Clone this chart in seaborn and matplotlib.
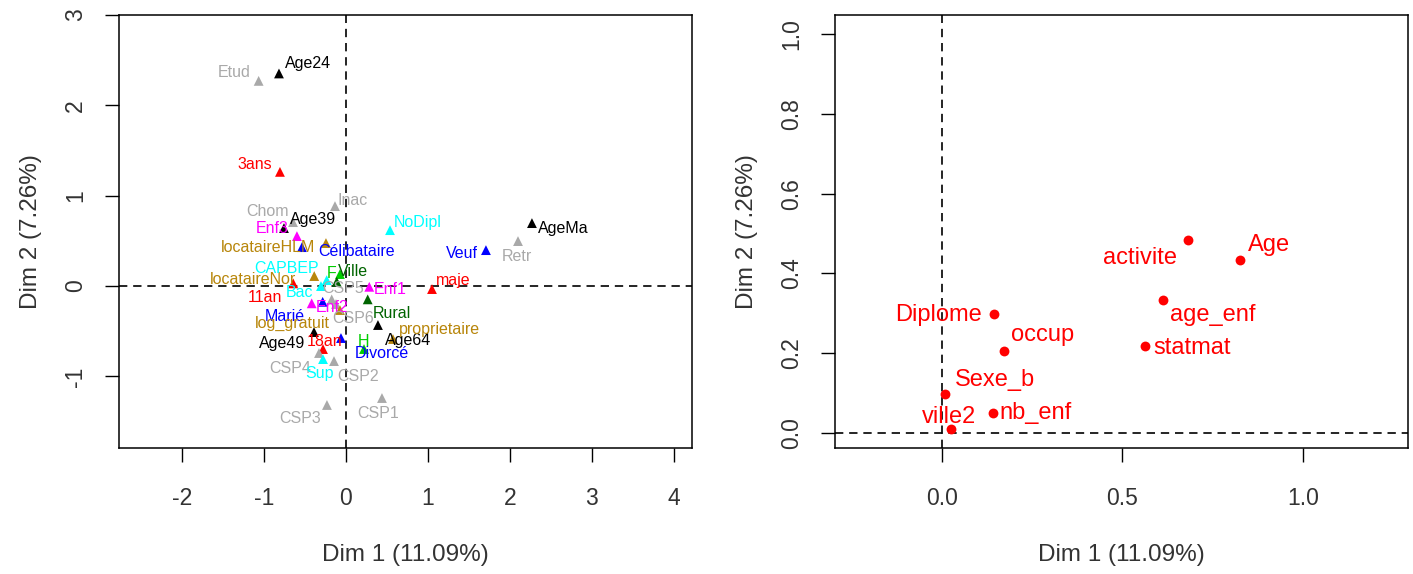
import pandas as pd
import matplotlib
matplotlib.use("Agg")
import matplotlib.pyplot as plt
import seaborn as sns

sns.set_theme(style="ticks")
plt.rcParams['font.family'] = ['Liberation Sans', 'DejaVu Sans']
plt.rcParams['axes.unicode_minus'] = False

# modalities (left panel)
modalites = ["Etud", "Age24", "3ans", "Inac", "Chom", "Age39", "Enf3",
             "locataireHLM", "Célibataire", "NoDipl", "Veuf", "Retr", "AgeMa",
             "maje", "11an", "locataireNor", "CAPBEP", "F", "Ville", "Bac",
             "Enf1", "Rural", "Enf2", "Marié", "CSP5", "CSP6", "log_gratuit",
             "Age64", "proprietaire", "Age49", "18an", "Divorcé", "H", "CSP4",
             "CSP2", "Sup", "CSP3", "CSP1"]
dim1_mod = [-1.065, -0.817, -0.805, -0.134, -0.646, -0.756, -0.598,
            -0.244, -0.537, 0.537, 1.707, 2.098, 2.268,
            1.049, -0.643, -0.387, -0.235, -0.073, -0.113, -0.305,
            0.284, 0.265, -0.418, -0.284, -0.174, -0.122, -0.073,
            0.390, 0.573, -0.390, -0.280, -0.061, 0.220, -0.329,
            -0.146, -0.280, -0.232, 0.439]
dim2_mod = [2.271, 2.353, 1.264, 0.885, 0.708, 0.642, 0.553,
            0.476, 0.431, 0.619, 0.398, 0.498, 0.697,
            -0.033, 0.030, 0.111, 0.066, 0.133, 0.048, 0.0,
            -0.008, -0.147, -0.191, -0.174, -0.147, -0.199, -0.265,
            -0.431, -0.586, -0.509, -0.697, -0.575, -0.697, -0.741,
            -0.830, -0.808, -1.316, -1.239]
variable_mod = ["activite", "Age", "age_enf", "activite", "activite", "Age", "nb_enf",
                "occup", "statmat", "Diplome", "statmat", "activite", "Age",
                "age_enf", "age_enf", "occup", "Diplome", "Sexe_b", "ville2", "Diplome",
                "nb_enf", "ville2", "nb_enf", "statmat", "activite", "activite", "occup",
                "Age", "occup", "Age", "age_enf", "statmat", "Sexe_b", "activite",
                "activite", "Diplome", "activite", "activite"]

# variables (right panel)
variables = ["activite", "Age", "age_enf", "Diplome", "occup", "statmat",
             "Sexe_b", "nb_enf", "ville2"]
dim1_var = [0.681, 0.824, 0.612, 0.145, 0.172, 0.562, 0.009, 0.142, 0.026]
dim2_var = [0.484, 0.434, 0.333, 0.298, 0.206, 0.218, 0.098, 0.050, 0.010]

couleurs = {"Age": "black", "age_enf": "#FF0000", "Sexe_b": "#00CD00",
            "statmat": "#0000FF", "Diplome": "#00FFFF", "nb_enf": "#FF00FF",
            "activite": "#A9A9A9", "occup": "#B8860B", "ville2": "#006400"}

# label offsets in pixels (dx, dy)
decal_mod = {"Etud": (-24, 8), "Age24": (29, 10), "3ans": (-25, 7), "Inac": (18, 6),
             "Chom": (-25, 11), "Age39": (29, 9), "Enf3": (-25, 8),
             "locataireHLM": (-58, -4), "Célibataire": (55, -4), "NoDipl": (28, 8),
             "Veuf": (-24, -3), "Retr": (-1, -15), "AgeMa": (31, -5), "maje": (21, 9),
             "11an": (-28, -14), "locataireNor": (-61, -3), "CAPBEP": (-40, 12),
             "F": (-8, 1), "Ville": (16, 10), "Bac": (-21, -6), "Enf1": (21, -3),
             "Rural": (24, -14), "Enf2": (20, -4), "Marié": (-38, -15),
             "CSP5": (11, 11), "CSP6": (17, -14), "log_gratuit": (-48, -13),
             "Age64": (30, -15), "proprietaire": (47, 10), "Age49": (-32, -11),
             "18an": (2, 8), "Divorcé": (41, -15), "H": (-1, 8), "CSP4": (-29, -15),
             "CSP2": (24, -15), "Sup": (-3, -14), "CSP3": (-27, -14), "CSP1": (-4, -15)}
decal_var = {"activite": (-48, -18), "Age": (29, 15), "age_enf": (50, -15),
             "Diplome": (-56, -1), "occup": (39, 16), "statmat": (47, -2),
             "Sexe_b": (50, 14), "nb_enf": (43, 0), "ville2": (-2, 12)}

df_mod = pd.DataFrame({"lab": modalites, "x": dim1_mod, "y": dim2_mod, "var": variable_mod})
df_var = pd.DataFrame({"lab": variables, "x": dim1_var, "y": dim2_var})

W, H = 1413, 574
fig = plt.figure(figsize=(W / 100, H / 100), dpi=100)
bot = 1 - 448 / H
hgt = (448 - 15) / H
ax1 = fig.add_axes([119 / W, bot, 573 / W, hgt])
ax2 = fig.add_axes([835 / W, bot, 573 / W, hgt])

sns.scatterplot(data=df_mod, x="x", y="y", hue="var", palette=couleurs,
                marker="^", s=50, linewidth=0, legend=False, ax=ax1)
for _, r in df_mod.iterrows():
    ax1.annotate(r["lab"], (r["x"], r["y"]), xytext=decal_mod[r["lab"]],
                 textcoords="offset pixels", ha="center", va="center",
                 fontsize=11.5, color=couleurs[r["var"]])

sns.scatterplot(data=df_var, x="x", y="y", color="#FF0000", marker="o",
                s=50, linewidth=0, legend=False, ax=ax2)
for _, r in df_var.iterrows():
    ax2.annotate(r["lab"], (r["x"], r["y"]), xytext=decal_var[r["lab"]],
                 textcoords="offset pixels", ha="center", va="center",
                 fontsize=17, color="#FF0000")

ax1.set_xlim(-2.768, 4.22)
ax1.set_ylim(-1.792, 2.998)
ax1.set_xticks([-2, -1, 0, 1, 2, 3, 4])
ax1.set_yticks([-1, 0, 1, 2, 3])
ax2.set_xlim(-0.295, 1.29)
ax2.set_ylim(-0.038, 1.048)
ax2.set_xticks([0.0, 0.5, 1.0])
ax2.set_xticklabels(["0.0", "0.5", "1.0"])
ax2.set_yticks([0.0, 0.2, 0.4, 0.6, 0.8, 1.0])
ax2.set_yticklabels(["0.0", "0.2", "0.4", "0.6", "0.8", "1.0"])

for ax in (ax1, ax2):
    ax.axhline(0, color="black", lw=1.2, ls=(0, (5, 3.5)), zorder=0)
    ax.axvline(0, color="black", lw=1.2, ls=(0, (5, 3.5)), zorder=0)
    for sp in ax.spines.values():
        sp.set_visible(True)
        sp.set_linewidth(1.1)
        sp.set_color("black")
    ax.tick_params(direction="out", length=10, width=1, labelsize=16.5,
                   colors="black", labelcolor="#333333")
    ax.tick_params(axis="x", pad=18)
    ax.tick_params(axis="y", pad=13)
    plt.setp(ax.get_yticklabels(), rotation=90, va="center")
    ax.set_xlabel("Dim 1 (11.09%)", fontsize=17.5, color="#333333")
    ax.set_ylabel("Dim 2 (7.26%)", fontsize=17.5, color="#333333")
    ax.xaxis.set_label_coords(0.5, -0.222)
    ax.yaxis.set_label_coords(-0.134, 0.5)

fig.savefig("out.png", dpi=100)
